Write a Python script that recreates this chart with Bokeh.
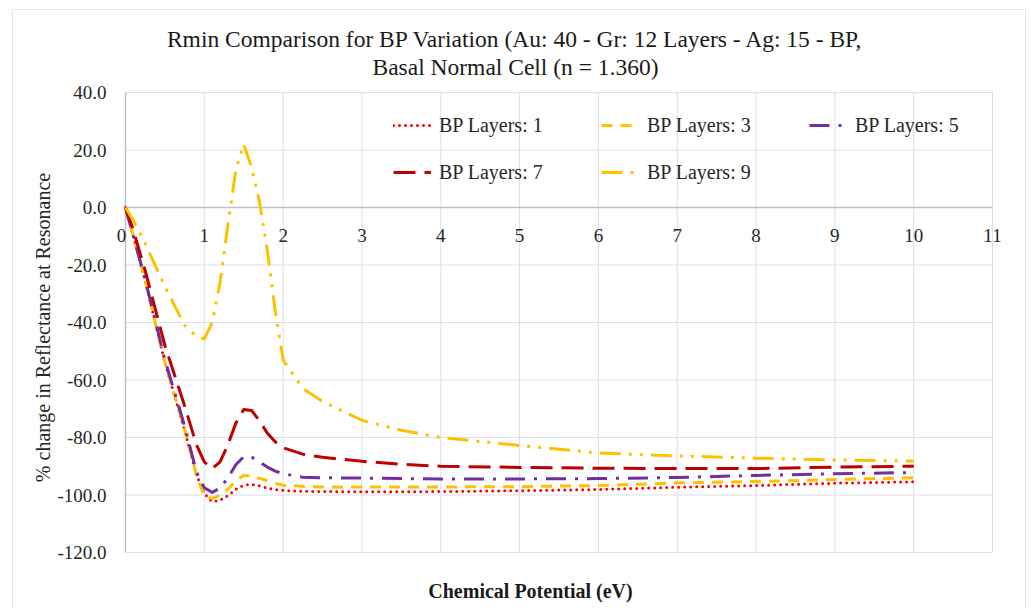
import math
from bokeh.plotting import figure
from bokeh.models import Legend, LegendItem, Label, Range1d, ColumnDataSource
from bokeh.embed import file_html
from bokeh.resources import INLINE

# ---------------- data ----------------
chem_potential = [0, 0.1, 0.25, 0.5, 0.75, 0.9, 1.0, 1.1, 1.2, 1.3, 1.4, 1.5, 1.6, 1.7,
                  1.8, 1.9, 2.0, 2.25, 2.5, 3, 3.5, 4, 5, 6, 7, 8, 9, 10]

bp_layers_1 = [0, -10, -25.5, -54, -77.5, -93, -99.5, -102.3, -101.8, -100.2, -98, -96.6,
               -96.3, -96.8, -97.6, -98.1, -98.4, -98.7, -98.8, -98.9, -98.9, -98.8,
               -98.5, -98.1, -97.3, -96.7, -95.9, -95.4]
bp_layers_3 = [0, -10, -25.5, -54, -77, -93, -100.5, -101.2, -100, -98, -95, -93.2,
               -93.3, -94.2, -95, -96, -96.6, -97, -97.2, -97.2, -97.2, -97.2,
               -97.1, -96.7, -95.8, -95.3, -94.6, -94]
bp_layers_5 = [0, -10, -25, -53, -76, -92, -97.5, -99.1, -97.6, -94, -89.5, -86.7,
               -86.8, -88.5, -90.3, -91.7, -92.6, -93.8, -94, -94.1, -94.3, -94.4,
               -94.4, -94.3, -93.9, -93.2, -92.6, -92.2]
bp_layers_7 = [0, -8, -22, -48, -69, -82.5, -88.5, -90.8, -88.5, -82.5, -75, -70.3,
               -70.6, -74.2, -78.5, -81.5, -83.6, -85.8, -86.9, -88.3, -89.3, -90,
               -90.4, -90.7, -90.8, -90.8, -90.3, -90]
bp_layers_9 = [0, -4.5, -12.5, -27.5, -41, -44.8, -45.7, -40, -26, -6, 13, 22,
               14, 2, -15, -36, -53, -63, -67.5, -74, -77.5, -80,
               -82.8, -85.4, -86.4, -87.2, -87.8, -88.2]

series_labels = ["BP Layers: 1", "BP Layers: 3", "BP Layers: 5", "BP Layers: 7", "BP Layers: 9"]
x_ticks = [0, 1, 2, 3, 4, 5, 6, 7, 8, 9, 10, 11]
y_ticks = [-120, -100, -80, -60, -40, -20, 0, 20, 40]

title_line1 = "Rmin Comparison for BP Variation (Au: 40 - Gr: 12 Layers - Ag: 15 - BP,"
title_line2 = "Basal Normal Cell (n = 1.360)"
x_title = "Chemical Potential (eV)"
y_title = "% change in Reflectance at Resonance"

# ---------------- layout (canvas pixels) ----------------
FONT = "Liberation Serif"
FRAME_L, FRAME_R, FRAME_T, FRAME_B = 13, 1012, 10, 605
X0_PX, X11_PX = 125, 992          # where x=0 and x=11 sit
Y40_PX, YM120_PX = 92, 552        # where y=40 and y=-120 sit
sx = (X11_PX - X0_PX) / (x_ticks[-1] - x_ticks[0])
sy = (YM120_PX - Y40_PX) / (y_ticks[-1] - y_ticks[0])

def dx(px):   # canvas px -> data x
    return x_ticks[0] + (px - X0_PX) / sx

def dy(py):   # canvas py -> data y
    return y_ticks[-1] - (py - Y40_PX) / sy

styles = [
    dict(color="#FF0000", dash="0 6", cap="round", width=3),
    dict(color="#FFC000", dash="11 8", cap="butt", width=3),
    dict(color="#7030A0", dash="20 9 3 9", cap="butt", width=3),
    dict(color="#C00000", dash="22 9", cap="butt", width=3),
    dict(color="#FFC000", dash="21 8 3 8 3 8", cap="butt", width=3),
]
TEXT_COLOR = "#262626"
AXIS_COLOR = "#b9c2d0"
GRID_COLOR = "#dadfe7"

p = figure(frame_width=FRAME_R - FRAME_L, frame_height=FRAME_B - FRAME_T,
           x_range=Range1d(dx(FRAME_L), dx(FRAME_R)), y_range=Range1d(dy(FRAME_B), dy(FRAME_T)),
           output_backend="svg", toolbar_location=None, title=None,
           min_border_left=0, min_border_right=1025 - FRAME_R,
           min_border_top=0, min_border_bottom=608 - FRAME_B,
           background_fill_color="white", border_fill_color="white")
p.styles = {"margin-left": "12px", "margin-top": "9px",
            "border-left": "1px solid #e3e6ec", "border-top": "1px solid #e3e6ec",
            "border-right": "1px solid #e3e6ec"}
p.outline_line_color = None
p.xgrid.visible = False
p.ygrid.visible = False
p.xaxis.visible = False
p.yaxis.visible = False

# grid lines limited to the data area
p.segment(x0=x_ticks, x1=x_ticks, y0=[y_ticks[0]] * len(x_ticks), y1=[y_ticks[-1]] * len(x_ticks),
          line_color=GRID_COLOR, line_width=1)
p.segment(x0=[x_ticks[0]] * len(y_ticks), x1=[x_ticks[-1]] * len(y_ticks), y0=y_ticks, y1=y_ticks,
          line_color=GRID_COLOR, line_width=1)
# axis lines: horizontal at y = 0, vertical at x = 0
p.segment(x0=[x_ticks[0]], x1=[x_ticks[-1]], y0=[0], y1=[0], line_color=AXIS_COLOR, line_width=1.5)
p.segment(x0=[0], x1=[0], y0=[y_ticks[0]], y1=[y_ticks[-1]], line_color=AXIS_COLOR, line_width=1.5)

# x tick labels hanging under the y = 0 line
p.text(x=x_ticks[1:], y=[0] * (len(x_ticks) - 1), text=[str(t) for t in x_ticks[1:]],
       y_offset=28, text_align="center", text_baseline="middle",
       text_font=FONT, text_font_size="19px", text_color=TEXT_COLOR)
p.text(x=x_ticks[:1], y=[0], text=[str(x_ticks[0])], x_offset=-4, y_offset=28,
       text_align="center", text_baseline="middle",
       text_font=FONT, text_font_size="19px", text_color=TEXT_COLOR)
# y tick labels left of the x = 0 line
p.text(x=[0] * len(y_ticks), y=y_ticks, text=[f"{t:.1f}" for t in y_ticks],
       x_offset=-19, text_align="right", text_baseline="middle",
       text_font=FONT, text_font_size="19px", text_color=TEXT_COLOR)

source = ColumnDataSource(dict(x=chem_potential, s1=bp_layers_1, s3=bp_layers_3,
                               s5=bp_layers_5, s7=bp_layers_7, s9=bp_layers_9))
cols = ["s1", "s3", "s5", "s7", "s9"]
renderers = []
for col, st in zip(cols, styles):
    r = p.line("x", col, source=source, line_color=st["color"], line_width=st["width"],
               line_dash=st["dash"], line_cap=st["cap"], line_join="round")
    renderers.append(r)

# titles
for txt, py in [(title_line1, 38), (title_line2, 66)]:
    p.add_layout(Label(x=dx(515), y=dy(py), text=txt,
                       text_align="center", text_baseline="middle", text_font=FONT,
                       text_font_size="23.5px", text_color="#1a1a1a"))
p.add_layout(Label(x=dx(530), y=dy(590), text=x_title,
                   text_align="center", text_baseline="middle", text_font=FONT,
                   text_font_size="20px", text_font_style="bold", text_color="#1a1a1a"))
p.add_layout(Label(x=dx(42), y=dy(327), text=y_title, angle=math.pi / 2,
                   text_align="center", text_baseline="middle", text_font=FONT,
                   text_font_size="20px", text_color=TEXT_COLOR))

legend = Legend(items=[LegendItem(label=lab, renderers=[r]) for lab, r in zip(series_labels, renderers)],
                ncols=3, orientation="horizontal", location=(393 - FRAME_L, FRAME_B - 187.5),
                glyph_width=38, glyph_height=20, label_standoff=8, label_width=146,
                label_height=31, spacing=16, padding=0, margin=0,
                background_fill_alpha=0, border_line_alpha=0,
                label_text_font=FONT, label_text_font_size="20px", label_text_color=TEXT_COLOR)
p.add_layout(legend)

open("out.html", "w").write(file_html(p, INLINE))
